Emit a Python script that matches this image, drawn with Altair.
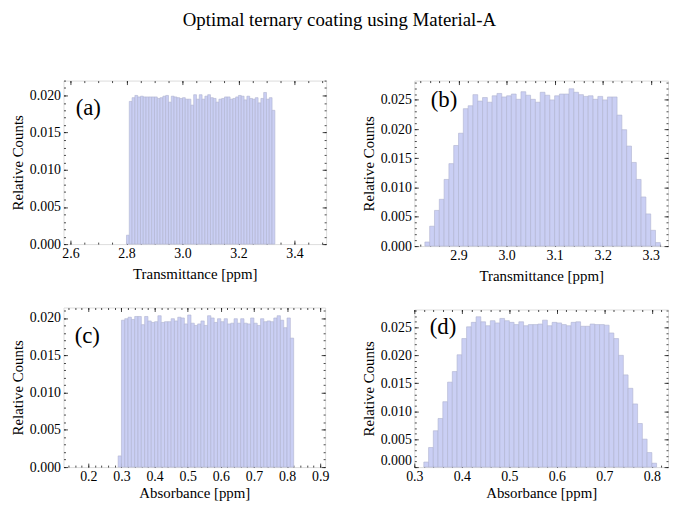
import altair as alt
import numpy as np
import pandas as pd

FONT = "Liberation Serif"
TITLE = "Optimal ternary coating using Material-A"
BIN = 0.01

# (a) Transmittance, first bin starts at 2.80
a_start = 2.80
a_counts = [0.0012,
    0.0192, 0.0197, 0.0200, 0.0198, 0.0199, 0.0198, 0.0198, 0.0198, 0.0198, 0.0198,
    0.0196, 0.0197, 0.0199, 0.0200, 0.0191, 0.0199, 0.0198, 0.0197, 0.0196, 0.0197,
    0.0195, 0.0195, 0.0187, 0.0201, 0.0195, 0.0201, 0.0195, 0.0199, 0.0201, 0.0197,
    0.0196, 0.0191, 0.0195, 0.0196, 0.0198, 0.0198, 0.0195, 0.0196, 0.0198, 0.0200,
    0.0199, 0.0194, 0.0199, 0.0196, 0.0195, 0.0197, 0.0190, 0.0196, 0.0204, 0.0195,
    0.0197, 0.0180]

# (b) Transmittance, first bin starts at 2.83
b_start = 2.83
b_counts = [
    0.0007, 0.0034, 0.0061, 0.0080, 0.0114, 0.0141, 0.0172, 0.0193, 0.0235, 0.0240,
    0.0259, 0.0248, 0.0254, 0.0246, 0.0257, 0.0261, 0.0255, 0.0257, 0.0260, 0.0251,
    0.0264, 0.0258, 0.0251, 0.0246, 0.0263, 0.0258, 0.0250, 0.0257, 0.0260, 0.0260,
    0.0269, 0.0263, 0.0259, 0.0256, 0.0257, 0.0251, 0.0256, 0.0250, 0.0255, 0.0255,
    0.0224, 0.0199, 0.0171, 0.0143, 0.0114, 0.0084, 0.0055, 0.0027, 0.0006]

# (c) Absorbance, first bin starts at 0.29
c_start = 0.29
c_counts = [0.0015,
    0.0197, 0.0199, 0.0201, 0.0198, 0.0202, 0.0202, 0.0191, 0.0202, 0.0196, 0.0194,
    0.0195, 0.0203, 0.0194, 0.0195, 0.0195, 0.0199, 0.0196, 0.0201, 0.0200, 0.0192,
    0.0204, 0.0193, 0.0190, 0.0192, 0.0196, 0.0190, 0.0203, 0.0200, 0.0194, 0.0199,
    0.0195, 0.0199, 0.0192, 0.0193, 0.0199, 0.0193, 0.0199, 0.0193, 0.0192, 0.0200,
    0.0193, 0.0190, 0.0199, 0.0195, 0.0196, 0.0195, 0.0200, 0.0203, 0.0197, 0.0187,
    0.0200, 0.0173]

# (d) Absorbance, first bin starts at 0.32
d_start = 0.32
d_counts = [
    0.0009, 0.0035, 0.0065, 0.0087, 0.0117, 0.0152, 0.0171, 0.0201, 0.0230, 0.0251,
    0.0259, 0.0269, 0.0260, 0.0253, 0.0262, 0.0258, 0.0266, 0.0262, 0.0259, 0.0255,
    0.0260, 0.0253, 0.0255, 0.0255, 0.0256, 0.0263, 0.0253, 0.0259, 0.0258, 0.0255,
    0.0253, 0.0259, 0.0260, 0.0252, 0.0252, 0.0256, 0.0255, 0.0255, 0.0254, 0.0240,
    0.0230, 0.0200, 0.0165, 0.0141, 0.0113, 0.0078, 0.0050, 0.0026, 0.0007]

x_titles = ["Transmittance [ppm]", "Transmittance [ppm]", "Absorbance [ppm]", "Absorbance [ppm]"]
letters = ["(a)", "(b)", "(c)", "(d)"]
y_title = "Relative Counts"

y_major = [0.0, 0.005, 0.010, 0.015, 0.020, 0.025]
y_minor = list(np.round(np.arange(0, 0.0301, 0.001), 4))

FILL = "#cacff4"
EDGE = "#b0b3cf"
INK = "#1a1a1a"


def hist_df(start, counts):
    n = len(counts)
    lo = np.round(start + BIN * np.arange(n), 4)
    return pd.DataFrame({"lo": lo, "hi": np.round(lo + BIN, 4), "v": counts, "zero": 0.0})


def axis(orient, values, size, labels=False, title=None, fmt=None, flush=False, tpad=4):
    kw = dict(orient=orient, values=values, tickSize=size, offset=-size,
              labels=labels, domain=False, grid=False, ticks=True,
              tickColor=INK, tickWidth=0.8, minExtent=0)
    if labels:
        kw.update(format=fmt, labelFlush=flush, labelOverlap=False,
                  labelPadding=3, labelColor="black", labelFont=FONT, labelFontSize=14)
    if title:
        kw.update(title=title, titleFont=FONT, titleFontSize=15, titleFontWeight="normal",
                  titleColor="black", titlePadding=tpad)
    else:
        kw.update(title=None)
    return alt.Axis(**kw)


def panel(df, xdom, ydom, xmaj, xmin, xtitle, letter, lx, ly, w, h, xtpad, yflush=False):
    sx = alt.Scale(domain=xdom, nice=False, zero=False)
    sy = alt.Scale(domain=ydom, nice=False, zero=False)
    base = alt.Chart(df)
    bars = base.mark_bar(fill=FILL, stroke=EDGE, strokeWidth=0.6).encode(
        x=alt.X("lo:Q", scale=sx, axis=axis("bottom", xmaj, 4, True, xtitle, ".1f", tpad=xtpad)),
        x2="hi:Q",
        y=alt.Y("v:Q", scale=sy, axis=axis("left", y_major, 4, True, y_title, ".3f", yflush)),
        y2="zero:Q",
    )
    def ghost(xo, xv, yo, yv, size):
        return base.mark_point(opacity=0).encode(
            x=alt.X("lo:Q", scale=sx, axis=axis(xo, xv, size)),
            y=alt.Y("v:Q", scale=sy, axis=axis(yo, yv, size)),
        )
    g1 = ghost("bottom", xmin, "left", y_minor, 2)
    g2 = ghost("top", xmaj, "right", y_major, 4)
    g3 = ghost("top", xmin, "right", y_minor, 2)
    txt = alt.Chart(pd.DataFrame({"t": [letter]})).mark_text(
        font=FONT, fontSize=23, align="center", baseline="middle", color="black"
    ).encode(text="t:N", x=alt.value(lx), y=alt.value(ly))
    return alt.layer(bars, g1, g2, g3, txt).resolve_axis(
        x="independent", y="independent").properties(width=w, height=h)


minor_a = list(np.round(np.arange(2.55, 3.55, 0.05), 3))
minor_b = list(np.round(np.arange(2.80, 3.36, 0.02), 3))
minor_c = list(np.round(np.arange(0.10, 0.94, 0.02), 3))
minor_d = list(np.round(np.arange(0.30, 0.86, 0.02), 3))

pa = panel(hist_df(a_start, a_counts), [2.575, 3.513], [0, 0.0220],
           [2.6, 2.8, 3.0, 3.2, 3.4], minor_a, x_titles[0], letters[0], 25, 28, 265, 165, 6)
pb = panel(hist_df(b_start, b_counts), [2.808, 3.336], [0, 0.0283],
           [2.9, 3.0, 3.1, 3.2, 3.3], minor_b, x_titles[1], letters[1], 30, 20, 256, 167, 6)
pc = panel(hist_df(c_start, c_counts), [0.125, 0.915], [0, 0.0214],
           [0.2, 0.3, 0.4, 0.5, 0.6, 0.7, 0.8, 0.9], minor_c, x_titles[2], letters[2], 24, 29, 264, 161, 2)
pd_ = panel(hist_df(d_start, d_counts), [0.300, 0.834], [0, 0.0282],
            [0.3, 0.4, 0.5, 0.6, 0.7, 0.8], minor_d, x_titles[3], letters[3], 29, 18, 256, 159, 2,
            yflush=True)

chart = alt.hconcat(
    alt.vconcat(pa, pc, spacing=24),
    alt.vconcat(pb, pd_, spacing=24),
    spacing=31,
).properties(
    title=alt.TitleParams(TITLE, font=FONT, fontSize=19, fontWeight="normal",
                          color="black", anchor="middle", offset=50),
    padding={"left": 2, "top": 1, "right": 0, "bottom": 0},
).configure_view(stroke=INK, strokeWidth=1).configure(background="white")

chart.save("out.html", embed_options={"renderer": "svg", "actions": False})
